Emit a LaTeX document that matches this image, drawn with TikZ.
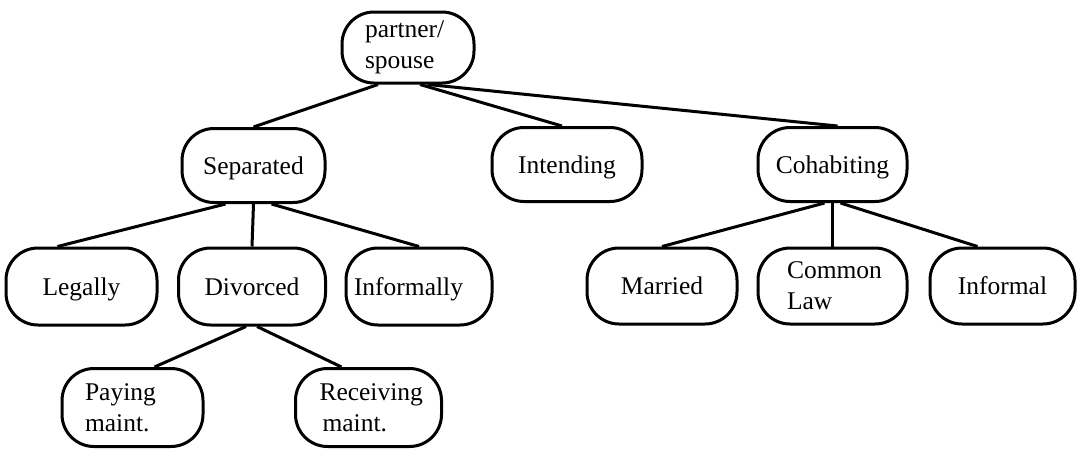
\documentclass[tikz,border=0pt]{standalone}
\usepackage{fontspec}
\setmainfont{Liberation Serif}
\tikzset{
  frame/.style={draw, line width=3pt, rounded corners=32pt,
    minimum height=74pt, inner sep=0pt,
    font=\fontsize{25.5}{31}\selectfont},
  box/.style={frame, minimum width=#1, text depth=0pt},
  box/.default=147pt,
  lbox/.style 2 args={frame, align=left, text width=#1, inner xsep=#2},
  link/.style={line width=3pt},
}
\begin{document}
\begin{tikzpicture}[x=1pt,y=-1pt]
\useasboundingbox (0,0) rectangle (1079,448);

% top level
\node[lbox={86pt}{23pt}, minimum height=71pt] (ps) at (408,47.5) {partner/\\spouse};

% second level
\node[box=143pt] (sep) at (253.5,165.5) {Separated};
\node[box=150pt] (int) at (567,164.5) {Intending};
\node[box=149pt] (coh) at (832.5,164.5) {Cohabiting};

% third level
\node[box=151pt, minimum height=77pt] (leg) at (81.5,286.5) {Legally};
\node[box, minimum height=77pt] (div) at (252,286.5) {Divorced};
\node[box=146pt, minimum height=77pt, text width=130pt, align=left, inner xsep=8pt] (inf) at (419,286.5) {Informally};
\node[box=150pt, minimum height=76pt] (mar) at (662,286) {Married};
\node[lbox={91pt}{29pt}, minimum height=76pt] (com) at (832.5,286) {Common\\Law};
\node[box=145pt, minimum height=76pt] (ifl) at (1002.5,286) {Informal};

% fourth level
\node[lbox={95pt}{23pt}, minimum height=78pt] (pay) at (132.5,407.5) {Paying\\maint.};
\node[lbox={98pt}{24pt}, minimum height=78pt] (rec) at (368.5,407.5) {Receiving\\\hspace*{3pt}maint.};

% connectors
\draw[link] ([xshift=-30pt]ps.south) -- (sep.north);
\draw[link] ([xshift=12pt]ps.south) -- ([xshift=-5pt]int.north);
\draw[link] ([xshift=20pt]ps.south) -- ([xshift=5pt]coh.north);

\draw[link] ([xshift=-28pt]sep.south) -- ([xshift=-24pt]leg.north);
\draw[link] (sep.south) -- (div.north);
\draw[link] ([xshift=18pt]sep.south) -- (inf.north);

\draw[link] ([xshift=-8pt]coh.south) -- (mar.north);
\draw[link] (coh.south) -- (com.north);
\draw[link] ([xshift=8pt]coh.south) -- ([xshift=-25pt]ifl.north);

\draw[link] ([xshift=-6pt]div.south) -- ([xshift=22pt]pay.north);
\draw[link] ([xshift=5pt]div.south) -- ([xshift=-27pt]rec.north);
\end{tikzpicture}
\end{document}
